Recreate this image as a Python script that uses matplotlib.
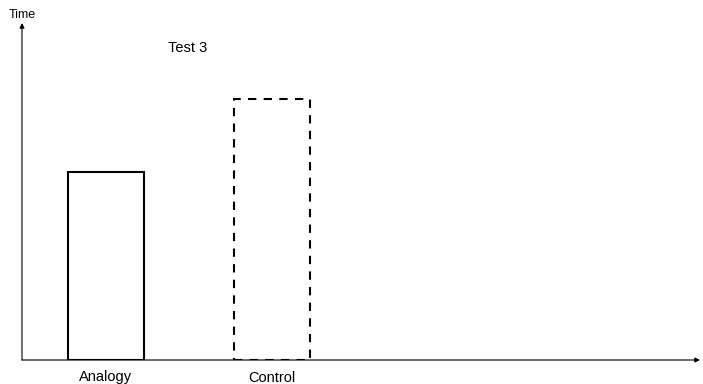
import matplotlib.pyplot as plt

plt.rcParams['font.family'] = ['Liberation Sans', 'DejaVu Sans']

categories = ['Analogy', 'Control']
values = [55.8, 77.4]
line_styles = ['solid', 'dashed']

fig = plt.figure(figsize=(7.03, 3.84), dpi=100)
ax = fig.add_axes([22 / 703, 24 / 384, 678 / 703, 337 / 384])

for i, (cat, val, ls) in enumerate(zip(categories, values, line_styles)):
    ax.bar(i, val, width=0.458, facecolor='none', edgecolor='black',
           linewidth=1.5, linestyle=ls if ls == 'solid' else (0, (4, 3.5)))

ax.set_xlim(-0.506, 3.578)
ax.set_ylim(0, 100)
ax.axis('off')

# axis arrows
ax.annotate('', xy=(1.0, 0), xytext=(0, 0), xycoords='axes fraction',
            arrowprops=dict(arrowstyle='-|>', color='black', lw=0.8,
                            mutation_scale=7, shrinkA=0, shrinkB=0))
ax.annotate('', xy=(0, 1.0), xytext=(0, 0), xycoords='axes fraction',
            arrowprops=dict(arrowstyle='-|>', color='black', lw=0.8,
                            mutation_scale=7, shrinkA=0, shrinkB=0))

# category labels (Control sits slightly lower)
label_offsets = [-17, -18.5]
for i, (cat, off) in enumerate(zip(categories, label_offsets)):
    ax.annotate(cat, xy=(i, 0), xycoords=('data', 'axes fraction'),
                xytext=(0, off), textcoords='offset pixels',
                ha='center', va='center', fontsize=10.5)

fig.text(22 / 703, 1 - 15 / 384, 'Time', ha='center', va='center', fontsize=9)
fig.text(188 / 703, 1 - 48 / 384, 'Test 3', ha='center', va='center', fontsize=10.5)

fig.savefig('out.png', dpi=100)
